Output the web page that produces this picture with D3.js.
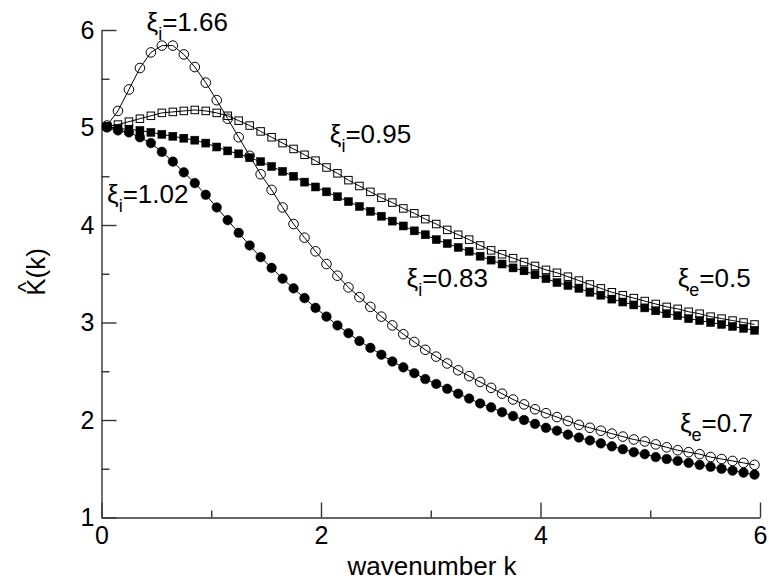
<!DOCTYPE html>
<html>
<head>
<meta charset="utf-8">
<script src="https://cdn.jsdelivr.net/npm/d3@7"></script>
<style>
  body { margin: 0; background: #fff; }
  text { font-family: "Liberation Sans", Arial, sans-serif; fill: #000; }
</style>
</head>
<body>
<script>
let width = 769;
let height = 582;

// wavenumber grid the markers sit on
let kValues = [0.05, 0.15, 0.25, 0.35, 0.45, 0.55, 0.65, 0.75, 0.85, 0.95,
  1.05, 1.15, 1.25, 1.35, 1.45, 1.55, 1.65, 1.75, 1.85, 1.95,
  2.05, 2.15, 2.25, 2.35, 2.45, 2.55, 2.65, 2.75, 2.85, 2.95,
  3.05, 3.15, 3.25, 3.35, 3.45, 3.55, 3.65, 3.75, 3.85, 3.95,
  4.05, 4.15, 4.25, 4.35, 4.45, 4.55, 4.65, 4.75, 4.85, 4.95,
  5.05, 5.15, 5.25, 5.35, 5.45, 5.55, 5.65, 5.75, 5.85, 5.95];

// xi_e = 0.7, xi_i = 1.66 (open circles)
let openCircles = [5.02, 5.17, 5.39, 5.61, 5.77, 5.84, 5.84, 5.75, 5.62, 5.46,
  5.28, 5.09, 4.90, 4.71, 4.52, 4.36, 4.18, 4.01, 3.87, 3.73,
  3.60, 3.48, 3.36, 3.26, 3.16, 3.06, 2.97, 2.88, 2.80, 2.72,
  2.65, 2.58, 2.51, 2.45, 2.39, 2.33, 2.27, 2.21, 2.16, 2.11,
  2.07, 2.03, 1.99, 1.95, 1.92, 1.89, 1.86, 1.83, 1.80, 1.78,
  1.75, 1.72, 1.69, 1.67, 1.65, 1.62, 1.60, 1.58, 1.56, 1.54];

// xi_e = 0.7, xi_i = 1.02 (filled circles)
let filledCircles = [5.00, 4.97, 4.95, 4.90, 4.84, 4.75, 4.65, 4.54, 4.43, 4.31,
  4.18, 4.05, 3.92, 3.79, 3.67, 3.56, 3.45, 3.35, 3.25, 3.15,
  3.06, 2.97, 2.89, 2.81, 2.74, 2.67, 2.60, 2.54, 2.48, 2.42,
  2.37, 2.32, 2.27, 2.22, 2.17, 2.13, 2.08, 2.04, 2.00, 1.96,
  1.92, 1.89, 1.85, 1.82, 1.79, 1.76, 1.73, 1.70, 1.67, 1.65,
  1.62, 1.60, 1.58, 1.56, 1.54, 1.52, 1.50, 1.48, 1.46, 1.44];

// xi_e = 0.5, xi_i = 0.95 (open squares)
let openSquares = [5.01, 5.03, 5.06, 5.09, 5.12, 5.15, 5.16, 5.17, 5.18, 5.17,
  5.15, 5.12, 5.07, 5.02, 4.96, 4.90, 4.84, 4.78, 4.72, 4.66,
  4.59, 4.53, 4.46, 4.40, 4.34, 4.28, 4.23, 4.17, 4.12, 4.06,
  4.01, 3.95, 3.90, 3.85, 3.79, 3.74, 3.70, 3.66, 3.62, 3.58,
  3.54, 3.51, 3.47, 3.43, 3.39, 3.35, 3.31, 3.28, 3.25, 3.22,
  3.19, 3.16, 3.14, 3.11, 3.09, 3.06, 3.04, 3.02, 3.00, 2.98];

// xi_e = 0.5, xi_i = 0.83 (filled squares)
let filledSquares = [5.01, 4.99, 4.98, 4.97, 4.95, 4.93, 4.91, 4.89, 4.87, 4.84,
  4.80, 4.76, 4.73, 4.69, 4.65, 4.60, 4.55, 4.50, 4.44, 4.39,
  4.34, 4.29, 4.24, 4.19, 4.14, 4.09, 4.04, 3.99, 3.94, 3.90,
  3.85, 3.81, 3.77, 3.73, 3.68, 3.64, 3.60, 3.56, 3.53, 3.49,
  3.45, 3.41, 3.38, 3.35, 3.31, 3.28, 3.24, 3.21, 3.18, 3.15,
  3.12, 3.09, 3.07, 3.04, 3.02, 3.00, 2.98, 2.96, 2.94, 2.92];

let xMajor = [0, 2, 4, 6];
let xMinor = [1, 3, 5];
let yMajor = [1, 2, 3, 4, 5, 6];
let yMinor = [1.5, 2.5, 3.5, 4.5, 5.5];

// curve labels: [subscript, value, k, K]
let labels = [
  ["i", "1.66", 0.41, 5.99],
  ["i", "0.95", 2.08, 4.84],
  ["i", "1.02", 0.05, 4.23],
  ["i", "0.83", 2.78, 3.36],
  ["e", "0.5", 5.25, 3.36],
  ["e", "0.7", 5.27, 1.88]
];

let svg = d3.select("body")
  .append("svg")
  .attr("width", width)
  .attr("height", height);

let x = d3.scaleLinear().domain([0, 6]).range([101.5, 760]);
let y = d3.scaleLinear().domain([1, 6]).range([517.5, 30]);

// axes - ticks point inward
let axisColor = "#333";

let gx = svg.append("g").attr("transform", "translate(0," + y(1) + ")")
  .call(d3.axisBottom(x).tickValues(xMajor).tickSize(-15).tickSizeOuter(0).tickPadding(9).tickFormat(d3.format("d")));
let gxMinor = svg.append("g").attr("transform", "translate(0," + y(1) + ")")
  .call(d3.axisBottom(x).tickValues(xMinor).tickSize(-7).tickFormat(""));
let gy = svg.append("g").attr("transform", "translate(" + x(0) + ",0)")
  .call(d3.axisLeft(y).tickValues(yMajor).tickSize(-15).tickSizeOuter(0).tickPadding(7).tickFormat(d3.format("d")));
let gyMinor = svg.append("g").attr("transform", "translate(" + x(0) + ",0)")
  .call(d3.axisLeft(y).tickValues(yMinor).tickSize(-8).tickFormat(""));

gxMinor.select(".domain").remove();
gyMinor.select(".domain").remove();

svg.selectAll(".domain, .tick line")
  .attr("stroke", axisColor)
  .attr("stroke-width", 1.4);
svg.selectAll(".tick text")
  .style("font-size", "25px")
  .style("font-family", "'Liberation Sans', Arial, sans-serif")
  .attr("fill", "#000");

// axis titles
svg.append("text")
  .attr("x", 432)
  .attr("y", 575)
  .attr("text-anchor", "middle")
  .style("font-size", "26px")
  .text("wavenumber k");

let yTitle = svg.append("g").attr("transform", "translate(45,272) rotate(-90)");
yTitle.append("text")
  .attr("text-anchor", "middle")
  .style("font-size", "26px")
  .text("K(k)");
yTitle.append("text")
  .attr("x", -15)
  .attr("y", -12)
  .attr("text-anchor", "middle")
  .style("font-size", "22px")
  .text("^");

// series
let series = [
  { values: openSquares, shape: "square", filled: false },
  { values: filledSquares, shape: "square", filled: true },
  { values: filledCircles, shape: "circle", filled: true },
  { values: openCircles, shape: "circle", filled: false }
];

let line = d3.line()
  .x(function(d) { return x(d[0]) })
  .y(function(d) { return y(d[1]) });

series.forEach(function(s) {
  let pts = kValues.map(function(k, i) { return [k, s.values[i]] });
  svg.append("path")
    .datum(pts)
    .attr("d", line)
    .attr("fill", "none")
    .attr("stroke", "#000")
    .attr("stroke-width", 1);

  let g = svg.append("g");
  if (s.shape === "circle") {
    g.selectAll("circle")
      .data(pts)
      .enter()
      .append("circle")
      .attr("cx", function(d) { return x(d[0]) })
      .attr("cy", function(d) { return y(d[1]) })
      .attr("r", 4.8)
      .attr("fill", s.filled ? "#000" : "none")
      .attr("stroke", "#000")
      .attr("stroke-width", s.filled ? 0.5 : 1);
  } else {
    let side = s.filled ? 8 : 7.5;
    g.selectAll("rect")
      .data(pts)
      .enter()
      .append("rect")
      .attr("x", function(d) { return x(d[0]) - side / 2 })
      .attr("y", function(d) { return y(d[1]) - side / 2 })
      .attr("width", side)
      .attr("height", side)
      .attr("fill", s.filled ? "#000" : "none")
      .attr("stroke", "#000")
      .attr("stroke-width", s.filled ? 0.5 : 1);
  }
});

// labels
let lab = svg.append("g")
  .selectAll("text")
  .data(labels)
  .enter()
  .append("text")
  .attr("x", function(d) { return x(d[2]) })
  .attr("y", function(d) { return y(d[3]) })
  .style("font-size", "26px");

lab.append("tspan").text("\u03BE");
lab.append("tspan")
  .attr("dy", 9)
  .style("font-size", "18px")
  .text(function(d) { return d[0] });
lab.append("tspan")
  .attr("dy", -9)
  .text(function(d) { return "=" + d[1] });
</script>
</body>
</html>
